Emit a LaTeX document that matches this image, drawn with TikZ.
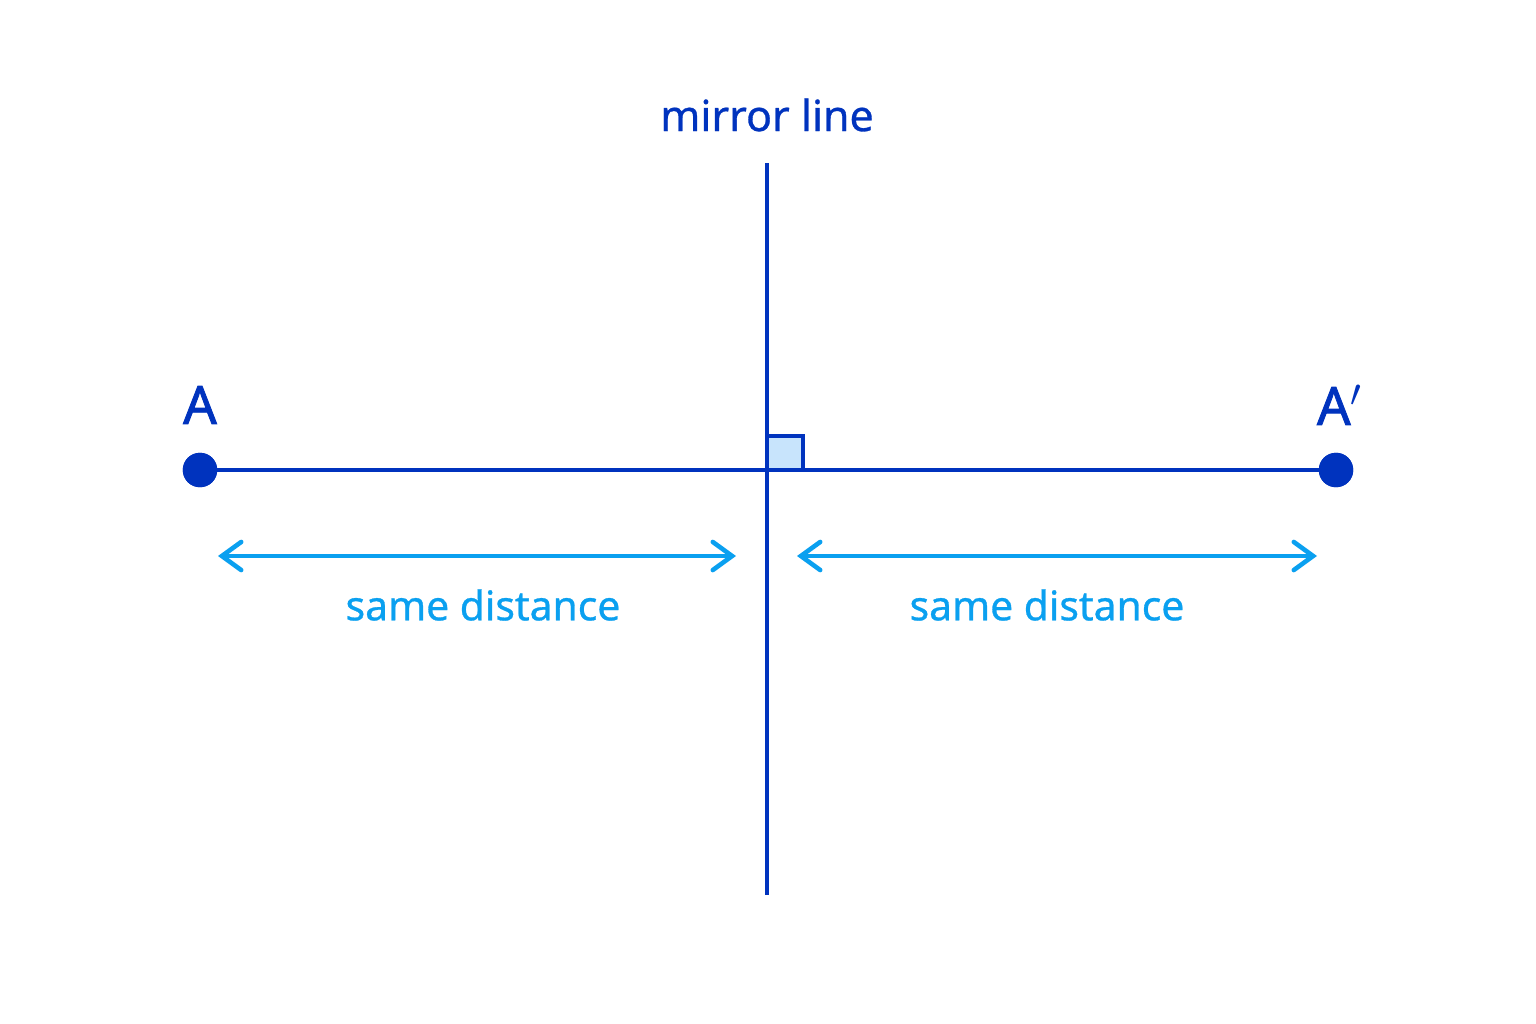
\documentclass[tikz,border=0pt]{standalone}
\usepackage{fontspec}
\setmainfont{Noto Sans}
\newfontfamily\medfont{Noto Sans}[FakeBold=0.7]
\newfontfamily\heavyfont{Noto Sans}[FakeBold=1.6]
\usetikzlibrary{arrows.meta}
\definecolor{mirrorblue}{RGB}{0,51,190}
\definecolor{distblue}{RGB}{10,160,240}
\definecolor{anglefill}{RGB}{200,228,252}
\begin{document}
\begin{tikzpicture}[x=0.01cm,y=-0.01cm]
	\tikzstyle{dot} = [circle,fill=mirrorblue,minimum size=9.8pt,inner sep=0pt]
	\tikzstyle{mainline} = [draw=mirrorblue,line width=1.35pt]
	\tikzstyle{distline} = [draw=distblue,line width=1.3pt,{Straight Barb[length=5.5pt,width=8pt,line cap=round]}-{Straight Barb[length=5.5pt,width=8pt,line cap=round]}]
	\tikzstyle{pointlabel} = [text=mirrorblue,font=\fontsize{15}{18}\selectfont\heavyfont]
	\tikzstyle{distlabel} = [text=distblue,font=\fontsize{11.6}{14}\selectfont\medfont]
	\useasboundingbox[fill=white] (0,0) rectangle (1536,1024);
	\coordinate (mirrortop) at (767,163);
	\coordinate (mirrorbot) at (767,895);
	\coordinate (foot) at (767,470);
	\node[text=mirrorblue,font=\fontsize{12.2}{15}\selectfont\medfont](mirror)at(767,115){mirror line};
	\node[dot](A)at(200,470){};
	\node[dot](Aprime)at(1336,470){};
	\node[pointlabel](Alabel)at(200,405){A};
	\node[pointlabel](Aprimelabel)at(1340,405){A$'$};
	\coordinate (leftstart) at (218,556);
	\coordinate (leftend) at (736,556);
	\coordinate (rightstart) at (797,556);
	\coordinate (rightend) at (1317,556);
	\node[distlabel](leftdist)at(483,605){same distance};
	\node[distlabel](rightdist)at(1047,605){same distance};
	\filldraw[fill=anglefill,draw=mirrorblue,line width=1.2pt] (foot) rectangle ++(36,-34);
	\path[mainline] (A.center) -- (Aprime.center)
	(mirrortop) -- (mirrorbot);
	\node[dot] at (A) {};
	\node[dot] at (Aprime) {};
	\path[distline] (leftstart) -- (leftend);
	\path[distline] (rightstart) -- (rightend);
\end{tikzpicture}
\end{document}
